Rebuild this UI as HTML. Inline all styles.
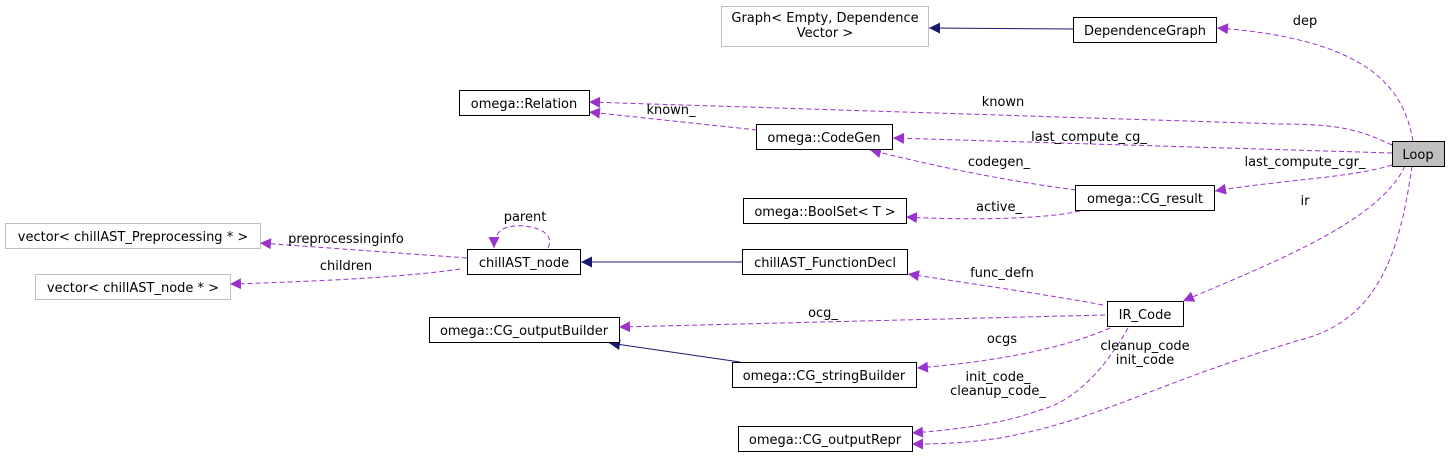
<!DOCTYPE html>
<html><head><meta charset="utf-8"><style>
html,body{margin:0;padding:0;background:#fff;}
svg{display:block;}
text{font-family:"DejaVu Sans","Liberation Sans",sans-serif;font-size:13px;fill:#000;}
</style></head><body>
<svg width="1449" height="458" viewBox="0 0 1449 458" xmlns="http://www.w3.org/2000/svg">
<defs>
<marker id="pa" viewBox="0 0 10 10" refX="10" refY="5" markerWidth="11" markerHeight="11" markerUnits="userSpaceOnUse" orient="auto"><path d="M0,0 L10,5 L0,10 z" fill="#9a32cd"/></marker>
<marker id="ba" viewBox="0 0 10 10" refX="10" refY="5" markerWidth="11" markerHeight="11" markerUnits="userSpaceOnUse" orient="auto"><path d="M0,0 L10,5 L0,10 z" fill="#191970"/></marker>
</defs>
<g fill="none" stroke="#9a32cd" stroke-width="1" stroke-dasharray="5,3">
<path d="M1413,141 C1405,100 1385,40 1217,28" marker-end="url(#pa)"/>
<path d="M1392,145 C1360,130 1340,124 1280,124 L589,102" marker-end="url(#pa)"/>
<path d="M757,130 L589,112" marker-end="url(#pa)"/>
<path d="M1392,153 L893,138" marker-end="url(#pa)"/>
<path d="M1392,165 C1350,178 1280,180 1215,191" marker-end="url(#pa)"/>
<path d="M1076,190 C1000,180 930,165 870,150" marker-end="url(#pa)"/>
<path d="M1080,211 C1040,220 960,220 906,217" marker-end="url(#pa)"/>
<path d="M548,248 C558,228 520,222 505,228 C496,232 494,240 494,248" marker-end="url(#pa)"/>
<path d="M467,258 L260,243" marker-end="url(#pa)"/>
<path d="M460,269 C400,278 300,282 230,284" marker-end="url(#pa)"/>
<path d="M1103,305 C1050,295 960,282 908,274" marker-end="url(#pa)"/>
<path d="M1105,315 L619,327" marker-end="url(#pa)"/>
<path d="M1110,328 C1060,350 990,362 917,368" marker-end="url(#pa)"/>
<path d="M1128,328 C1110,360 1080,400 1040,410 C1000,425 950,430 912,433" marker-end="url(#pa)"/>
<path d="M1405,166 C1380,220 1280,260 1183,301" marker-end="url(#pa)"/>
<path d="M1412,166 C1400,250 1380,320 1300,340 C1150,385 1100,420 1000,438 C960,444 930,444 912,444" marker-end="url(#pa)"/>
</g>
<g fill="none" stroke="#191970" stroke-width="1">
<path d="M1073,29 L929,28" marker-end="url(#ba)"/>
<path d="M742,262 L581,262" marker-end="url(#ba)"/>
<path d="M740,362 L609,343" marker-end="url(#ba)"/>
</g>
<g stroke-width="1">
<rect x="721.5" y="6.5" width="207" height="40" fill="#fff" stroke="#bfbfbf"/>
<rect x="1073.5" y="17.5" width="143" height="25" fill="#fff" stroke="#000"/>
<rect x="459.5" y="90.5" width="130" height="25" fill="#fff" stroke="#000"/>
<rect x="756.5" y="124.5" width="136" height="25" fill="#fff" stroke="#000"/>
<rect x="1392.5" y="141.5" width="52" height="25" fill="#bfbfbf" stroke="#000"/>
<rect x="1075.5" y="185.5" width="139" height="25" fill="#fff" stroke="#000"/>
<rect x="743.5" y="198.5" width="163" height="25" fill="#fff" stroke="#000"/>
<rect x="742.5" y="249.5" width="165" height="25" fill="#fff" stroke="#000"/>
<rect x="1107.5" y="301.5" width="76" height="25" fill="#fff" stroke="#000"/>
<rect x="732.5" y="362.5" width="184" height="25" fill="#fff" stroke="#000"/>
<rect x="738.5" y="426.5" width="174" height="25" fill="#fff" stroke="#000"/>
<rect x="467.5" y="249.5" width="113" height="25" fill="#fff" stroke="#000"/>
<rect x="5.5" y="223.5" width="255" height="25" fill="#fff" stroke="#bfbfbf"/>
<rect x="35.5" y="274.5" width="195" height="25" fill="#fff" stroke="#bfbfbf"/>
<rect x="429.5" y="317.5" width="190" height="25" fill="#fff" stroke="#000"/>
</g>
<g text-anchor="middle">
<text x="825" y="22">Graph&lt; Empty, Dependence</text>
<text x="825" y="37">Vector &gt;</text>
<text x="1145" y="35">DependenceGraph</text>
<text x="524" y="108">omega::Relation</text>
<text x="824" y="142">omega::CodeGen</text>
<text x="1418" y="159">Loop</text>
<text x="1145" y="203">omega::CG_result</text>
<text x="825" y="216">omega::BoolSet&lt; T &gt;</text>
<text x="825" y="267">chillAST_FunctionDecl</text>
<text x="1145" y="319">IR_Code</text>
<text x="824" y="380">omega::CG_stringBuilder</text>
<text x="825" y="444">omega::CG_outputRepr</text>
<text x="524" y="267">chillAST_node</text>
<text x="133" y="241">vector&lt; chillAST_Preprocessing * &gt;</text>
<text x="133" y="292">vector&lt; chillAST_node * &gt;</text>
<text x="524" y="335">omega::CG_outputBuilder</text>
<text x="1305" y="25">dep</text>
<text x="1003" y="106">known</text>
<text x="671" y="114">known_</text>
<text x="1089" y="141">last_compute_cg_</text>
<text x="1305" y="166">last_compute_cgr_</text>
<text x="999" y="166">codegen_</text>
<text x="999" y="211">active_</text>
<text x="525" y="221">parent</text>
<text x="346" y="243">preprocessinginfo</text>
<text x="346" y="270">children</text>
<text x="1002" y="277">func_defn</text>
<text x="823" y="317">ocg_</text>
<text x="1002" y="343">ocgs</text>
<text x="998" y="381">init_code_</text>
<text x="998" y="395">cleanup_code_</text>
<text x="1145" y="350">cleanup_code</text>
<text x="1145" y="364">init_code</text>
<text x="1305" y="205">ir</text>
</g>
</svg>
</body></html>
